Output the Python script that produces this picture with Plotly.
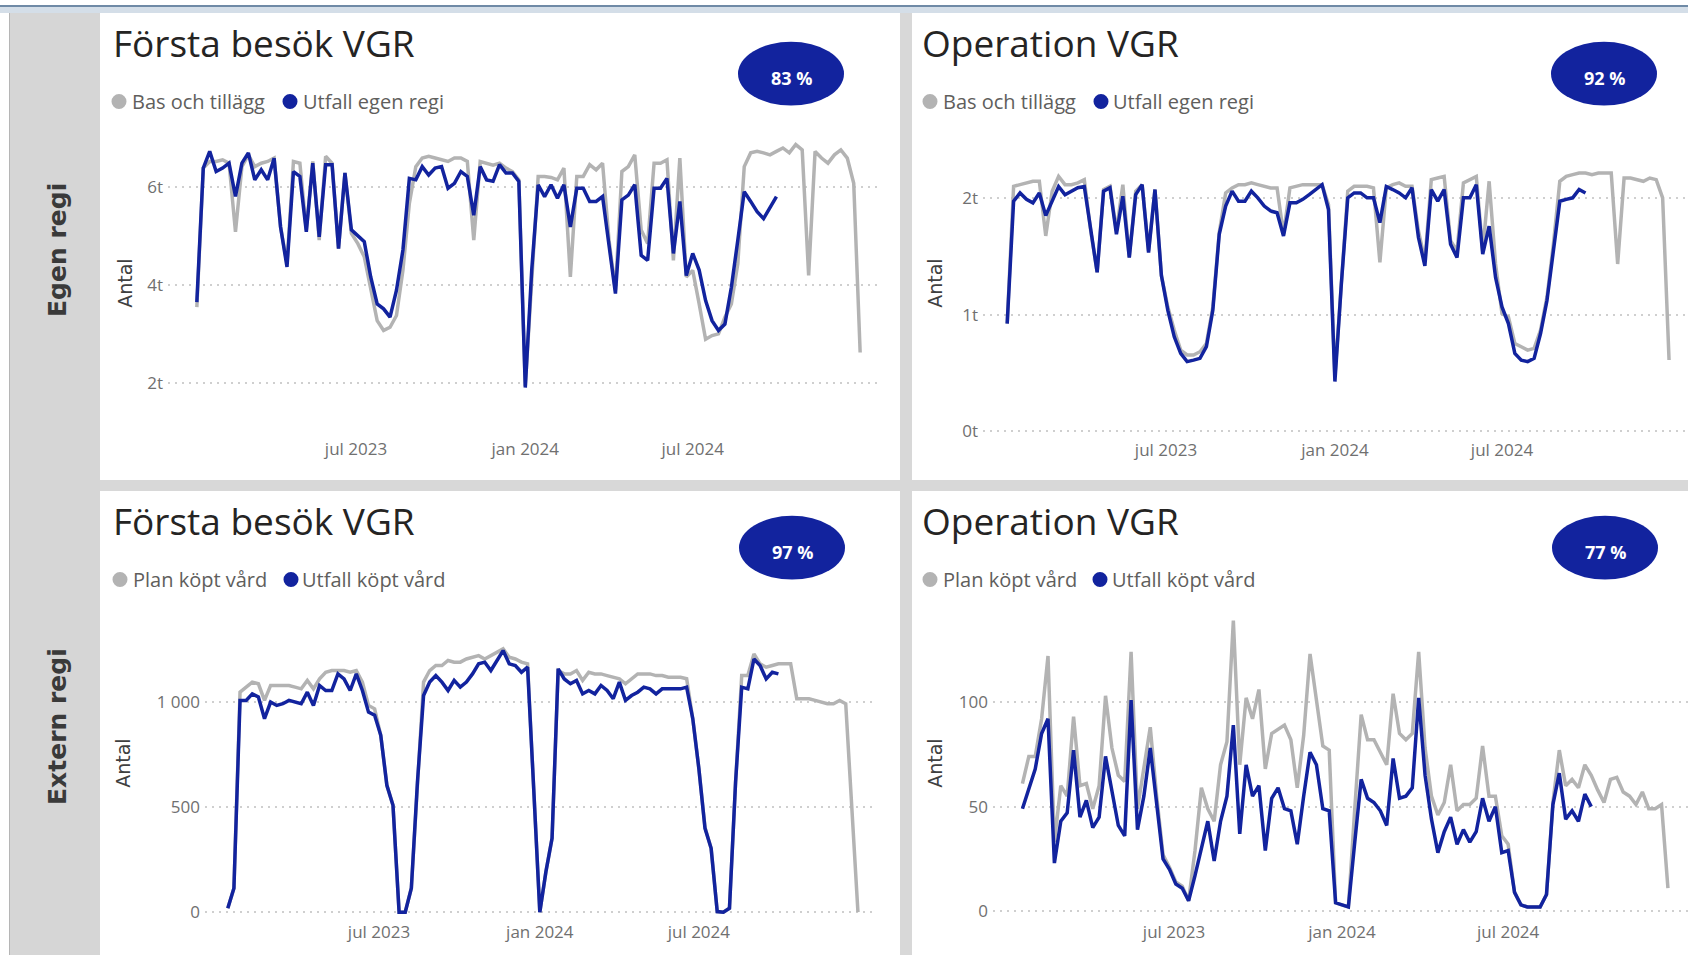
import pandas as pd
import plotly.graph_objects as go

W, H = 1688, 959

# ---------------- data (weekly values) ----------------
weeks_start = "2023-01-09"
weeks_start_op_ext = "2023-01-16"

# Egen regi - Första besök VGR
fb_egen_bas = [3555, 6390, 6525, 6525, 6560, 6490, 5090, 6420, 6660, 6420,
               6490, 6525, 6595, 5195, 4440, 6525, 6490, 5125, 6525, 4920,
               6630, 6490, 4750, 6290, 5060, 4850, 4580, 3900, 3280, 3080,
               3145, 3385, 4305, 5670, 6420, 6595, 6630, 6595, 6560, 6525,
               6595, 6595, 6525, 4920, 6525, 6490, 6450, 6490, 6390, 6320,
               6150, 1950, 4240, 6220, 6220, 6200, 6150, 6390, 4170, 6220,
               6220, 6460, 6355, 6490, 4920, 3900, 6320, 6420, 6660, 5125,
               4850, 6490, 6490, 6560, 4510, 6595, 4170, 4305, 3620, 2900,
               2975, 3010, 3350, 3620, 4440, 6420, 6700, 6730, 6700, 6660,
               6730, 6800, 6700, 6870, 6760, 4200, 6730, 6595, 6490, 6660,
               6760, 6595, 6080, 2630]
fb_egen_utfall = [3657, 6390, 6730, 6320, 6390, 6490, 5810, 6490, 6700, 6150,
                  6355, 6150, 6590, 5190, 4375, 6320, 6220, 5090, 6490, 4990,
                  6460, 6460, 4750, 6290, 5130, 5020, 4890, 4170, 3620, 3520,
                  3350, 3900, 4720, 6180, 6150, 6420, 6250, 6390, 6420, 5980,
                  6080, 6320, 6220, 5430, 6420, 6150, 6120, 6460, 6290, 6290,
                  6120, 1915, 4310, 6050, 5810, 6050, 5775, 6050, 5190, 5980,
                  5980, 5710, 5710, 5810, 4820, 3830, 5740, 5840, 6050, 4610,
                  4510, 5980, 5980, 6180, 4650, 5710, 4200, 4650, 4310, 3690,
                  3280, 3080, 3210, 3960, 4920, 5910, 5710, 5500, 5360, 5570,
                  5810]

# Egen regi - Operation VGR
op_egen_bas = [924, 2102, 2116, 2131, 2145, 2145, 1676, 2060, 2187, 2116,
               2116, 2131, 2159, 1719, 1364, 2074, 2102, 1719, 2116, 1492,
               2060, 2116, 1548, 2074, 1335, 1066, 867, 696, 654, 654,
               682, 753, 1066, 1705, 2045, 2088, 2116, 2116, 2131, 2116,
               2102, 2088, 2088, 1690, 2088, 2102, 2116, 2116, 2116, 2116,
               1946, 469, 1264, 2060, 2102, 2102, 2102, 2088, 1449, 2088,
               2116, 2131, 2102, 2102, 1719, 1463, 2159, 2173, 2187, 1634,
               1548, 2131, 2159, 2187, 1548, 2145, 1435, 1009, 980, 753,
               725, 696, 711, 867, 1151, 1605, 2145, 2187, 2202, 2216,
               2216, 2202, 2216, 2216, 2216, 1435, 2173, 2173, 2159, 2145,
               2173, 2159, 2003, 611]
op_egen_utfall = [924, 1974, 2045, 1990, 1960, 2045, 1850, 1974, 2100, 2030,
                  2060, 2090, 2100, 1720, 1364, 2060, 2090, 1690, 2017, 1490,
                  2030, 2116, 1534, 2074, 1335, 1037, 810, 668, 597, 610,
                  625, 725, 1037, 1690, 1932, 2060, 1974, 1974, 2060, 2003,
                  1932, 1890, 1875, 1676, 1960, 1960, 1990, 2030, 2074, 2116,
                  1903, 426, 1264, 2003, 2045, 2045, 2003, 2003, 1790, 2100,
                  2074, 2045, 2003, 2090, 1662, 1420, 2074, 1974, 2074, 1605,
                  1490, 2003, 2003, 2116, 1520, 1760, 1320, 1066, 924, 668,
                  610, 597, 625, 838, 1122, 1577, 1974, 1990, 2003, 2074,
                  2045]

# Extern regi - Första besök VGR
fb_ext_plan = [19, 114, 1047, 1071, 1095, 1087, 1008, 1079, 1079, 1079,
               1079, 1071, 1063, 1103, 1063, 1111, 1142, 1150, 1150, 1150,
               1142, 1150, 1095, 984, 968, 842, 604, 509, 0, 0,
               114, 620, 1095, 1150, 1174, 1174, 1198, 1190, 1190, 1205,
               1213, 1221, 1205, 1221, 1237, 1253, 1213, 1205, 1190, 1182,
               588, 0, 193, 351, 1150, 1134, 1134, 1150, 1103, 1142,
               1134, 1134, 1126, 1118, 1111, 1087, 1111, 1134, 1134, 1134,
               1126, 1126, 1118, 1118, 1118, 1111, 921, 683, 403, 304,
               3, 0, 19, 620, 1126, 1126, 1229, 1182, 1166, 1174,
               1182, 1182, 1182, 1016, 1016, 1016, 1008, 1000, 992, 992,
               1008, 992, 494, 0]
fb_ext_utfall = [19, 114, 1008, 1008, 1039, 1024, 921, 1000, 984, 992,
                 1008, 1000, 992, 1047, 984, 1079, 1055, 1055, 1134, 1110,
                 1055, 1134, 1055, 952, 937, 842, 604, 509, 0, 0,
                 114, 620, 1031, 1095, 1126, 1095, 1055, 1103, 1071, 1095,
                 1134, 1182, 1190, 1150, 1198, 1245, 1182, 1174, 1142, 1166,
                 588, 0, 193, 351, 1158, 1110, 1087, 1103, 1039, 1055,
                 1039, 1079, 1055, 1016, 1095, 1008, 1031, 1047, 1071, 1063,
                 1039, 1063, 1063, 1063, 1063, 1071, 921, 683, 399, 304,
                 3, 0, 19, 620, 1071, 1063, 1205, 1174, 1110, 1142,
                 1134]

# Extern regi - Operation VGR
op_ext_plan = [61, 74, 74, 92, 122, 33, 60, 55, 93, 60,
               61, 49, 60, 103, 78, 65, 62, 124, 49, 68,
               88, 55, 27, 21, 14, 12, 5, 29, 59, 49,
               43, 70, 81, 139, 70, 102, 92, 106, 68, 85,
               87, 89, 82, 59, 84, 123, 101, 79, 77, 4,
               3, 2, 49, 94, 82, 82, 76, 70, 104, 85,
               82, 85, 124, 78, 55, 46, 52, 70, 48, 51,
               51, 54, 79, 55, 55, 36, 32, 9, 3, 2,
               2, 2, 8, 52, 77, 60, 63, 59, 70, 65,
               58, 52, 63, 64, 57, 55, 51, 57, 49, 49,
               51, 11]
op_ext_utfall = [49, 59, 68, 85, 92, 23, 43, 47, 77, 45,
                 53, 40, 45, 74, 57, 41, 36, 101, 39, 55,
                 78, 51, 25, 20, 13, 11, 5, 17, 30, 43,
                 24, 43, 55, 89, 37, 70, 55, 60, 29, 54,
                 59, 49, 48, 32, 55, 76, 70, 49, 48, 4,
                 3, 2, 33, 63, 54, 52, 48, 41, 73, 54,
                 55, 59, 102, 65, 44, 28, 38, 45, 32, 39,
                 33, 38, 54, 43, 50, 28, 29, 9, 3, 2,
                 2, 2, 8, 51, 66, 44, 48, 43, 56, 50]

x_tick_vals = ["2023-07-01", "2024-01-01", "2024-07-01"]
x_tick_text = ["jul 2023", "jan 2024", "jul 2024"]

titles = ["Första besök VGR", "Operation VGR", "Första besök VGR", "Operation VGR"]
legend_names = [("Bas och tillägg", "Utfall egen regi"), ("Bas och tillägg", "Utfall egen regi"),
                ("Plan köpt vård", "Utfall köpt vård"), ("Plan köpt vård", "Utfall köpt vård")]
badges = ["83 %", "92 %", "97 %", "77 %"]
row_labels = ["Egen regi", "Extern regi"]
y_tick_vals = [[2000, 4000, 6000], [0, 1000, 2000], [0, 500, 1000], [0, 50, 100]]
y_tick_text = [["2t", "4t", "6t"], ["0t", "1t", "2t"], ["0", "500", "1 000"], ["0", "50", "100"]]

# ---------------- styling / layout ----------------
BLUE = "#12239E"
GRAY = "#b3b3b3"
FONT = "Open Sans"

def fx(p):
    return p / W

def fy(p):
    return 1 - p / H

dates_main = pd.date_range(weeks_start, periods=len(fb_egen_bas), freq="7D")
dates_op_ext = pd.date_range(weeks_start_op_ext, periods=len(op_ext_plan), freq="7D")

series = [
    (dates_main, fb_egen_bas, fb_egen_utfall),
    (dates_main, op_egen_bas, op_egen_utfall),
    (dates_main, fb_ext_plan, fb_ext_utfall),
    (dates_op_ext, op_ext_plan, op_ext_utfall),
]

# pixel geometry per panel: plot area x/y, x calibration (px of 2023-07-01, px/day),
# y calibration ((v1, px1), (v2, px2)), panel left, panel top
panels = [
    dict(xdom=(168, 877), ydom=(125, 439), xcal=(356, 0.920), ycal=((6000, 188), (2000, 385)),
         left=111, top=0),
    dict(xdom=(983, 1688), ydom=(125, 440), xcal=(1166, 0.918), ycal=((2000, 199), (0, 433)),
         left=920, top=0),
    dict(xdom=(205, 875), ydom=(600, 924), xcal=(379, 0.874), ycal=((1000, 705), (0, 916)),
         left=111, top=480),
    dict(xdom=(993, 1688), ydom=(600, 924), xcal=(1174, 0.913), ycal=((100, 705), (0, 915)),
         left=920, top=480),
]
legend_x = [(119, 130, 290, 301), (930, 941, 1101, 1111), (120, 131, 291, 300), (930, 941, 1100, 1110)]
badge_cx = [791, 1604, 792, 1605]
antal_pos = [(125, 285), (935, 285), (123, 767), (935, 767)]

fig = go.Figure()
shapes = []
annotations = []

ref = pd.Timestamp("2023-07-01")
for i, (p, (dts, plan, utfall)) in enumerate(zip(panels, series)):
    n = i + 1
    xa = "x" if n == 1 else f"x{n}"
    ya = "y" if n == 1 else f"y{n}"
    fig.add_trace(go.Scatter(x=dts, y=plan, mode="lines", line=dict(color=GRAY, width=3.5),
                             name=legend_names[i][0], xaxis=xa, yaxis=ya, hoverinfo="x+y"))
    fig.add_trace(go.Scatter(x=dts[:len(utfall)], y=utfall, mode="lines",
                             line=dict(color=BLUE, width=3.5),
                             name=legend_names[i][1], xaxis=xa, yaxis=ya, hoverinfo="x+y"))

    x0, x1 = p["xdom"]
    pref, ppd = p["xcal"]
    r0 = ref + pd.Timedelta(days=(x0 - pref) / ppd)
    r1 = ref + pd.Timedelta(days=(x1 - pref) / ppd)
    (v1, p1), (v2, p2) = p["ycal"]
    ppu = (p2 - p1) / (v1 - v2)
    ytop, ybot = p["ydom"]
    vbot = v2 - (ybot - p2) / ppu
    vtop = v1 + (p1 - ytop) / ppu

    xkey = "xaxis" if n == 1 else f"xaxis{n}"
    ykey = "yaxis" if n == 1 else f"yaxis{n}"
    fig.layout[xkey] = dict(
        domain=[fx(x0), fx(x1)], anchor=ya, type="date",
        range=[r0.strftime("%Y-%m-%d %H:%M"), r1.strftime("%Y-%m-%d %H:%M")],
        tickvals=x_tick_vals, ticktext=x_tick_text, showgrid=False, zeroline=False,
        showline=False, ticks="", tickfont=dict(family=FONT, size=17, color="#707070"),
        fixedrange=True)
    fig.layout[ykey] = dict(
        domain=[fy(ybot), fy(ytop)], anchor=xa, range=[vbot, vtop],
        tickvals=y_tick_vals[i], ticktext=y_tick_text[i], showgrid=True,
        gridcolor="#cfcfcf", gridwidth=2, griddash="2px,5px", zeroline=False,
        showline=False, ticks="", ticklabelstandoff=4,
        tickfont=dict(family=FONT, size=17, color="#707070"), fixedrange=True)

    top = p["top"]
    # title
    annotations.append(dict(x=fx(p["left"]), y=fy(top + 43), xref="paper", yref="paper",
                            text=titles[i], showarrow=False, xanchor="left", yanchor="middle",
                            font=dict(family=FONT, size=37, color="#252423")))
    # legend
    dx1, tx1, dx2, tx2 = legend_x[i]
    ly = top + 102
    for dxx, col in ((dx1, GRAY), (dx2, BLUE)):
        shapes.append(dict(type="circle", xref="paper", yref="paper",
                           x0=fx(dxx - 7.5), x1=fx(dxx + 7.5), y0=fy(ly + 7.5), y1=fy(ly - 7.5),
                           fillcolor=col, line=dict(width=0)))
    for txx, txt in ((tx1, legend_names[i][0]), (tx2, legend_names[i][1])):
        annotations.append(dict(x=fx(txx), y=fy(ly), xref="paper", yref="paper", text=txt,
                                showarrow=False, xanchor="left", yanchor="middle",
                                font=dict(family=FONT, size=20, color="#605E5C")))
    # badge
    cx = badge_cx[i]
    cy = top + (74 if top == 0 else 70)
    shapes.append(dict(type="circle", xref="paper", yref="paper",
                       x0=fx(cx - 53), x1=fx(cx + 53), y0=fy(cy + 32), y1=fy(cy - 32),
                       fillcolor=BLUE, line=dict(width=0)))
    annotations.append(dict(x=fx(cx), y=fy(cy + 4), xref="paper", yref="paper", text=badges[i],
                            showarrow=False, xanchor="center", yanchor="middle",
                            font=dict(family=FONT, size=18, color="white", weight="bold")))
    # y-axis title
    ax, ay = antal_pos[i]
    annotations.append(dict(x=fx(ax), y=fy(ay), xref="paper", yref="paper", text="Antal",
                            textangle=-90, showarrow=False, xanchor="center", yanchor="middle",
                            font=dict(family="DejaVu Sans", size=19, color="#404040")))

# row labels in the left strip
for txt, cy in zip(row_labels, (251, 730)):
    annotations.append(dict(x=fx(58), y=fy(cy), xref="paper", yref="paper", text=f"<b>{txt}</b>",
                            textangle=-90, showarrow=False, xanchor="center", yanchor="middle",
                            font=dict(family="DejaVu Sans", size=25, color="#3a3a3a")))

# page chrome
bg = [
    (0, 5, W, 7, "#6f8aa6"),
    (0, 7, W, 13, "#d4dee8"),
    (10, 13, 100, H, "#d6d6d6"),
    (900, 13, 912, H, "#d8d8d8"),
    (10, 482, W, 493, "#d8d8d8"),
    (10, 485, W, 489, "#1e1e1e"),
    (9, 13, 11, H, "#b5b5b5"),
]
for x0, y0, x1, y1, col in bg:
    shapes.insert(0, dict(type="rect", xref="paper", yref="paper", x0=fx(x0), x1=fx(x1),
                          y0=fy(y1), y1=fy(y0), fillcolor=col, line=dict(width=0), layer="below"))

fig.update_layout(
    width=W, height=H, autosize=False,
    margin=dict(l=0, r=0, t=0, b=0, pad=0),
    paper_bgcolor="white", plot_bgcolor="rgba(0,0,0,0)",
    showlegend=False, shapes=shapes, annotations=annotations,
    font=dict(family=FONT),
)

fig.write_html("out.html", config={"displayModeBar": False},
               post_script="document.body.style.margin='0';document.body.style.overflow='hidden';")
